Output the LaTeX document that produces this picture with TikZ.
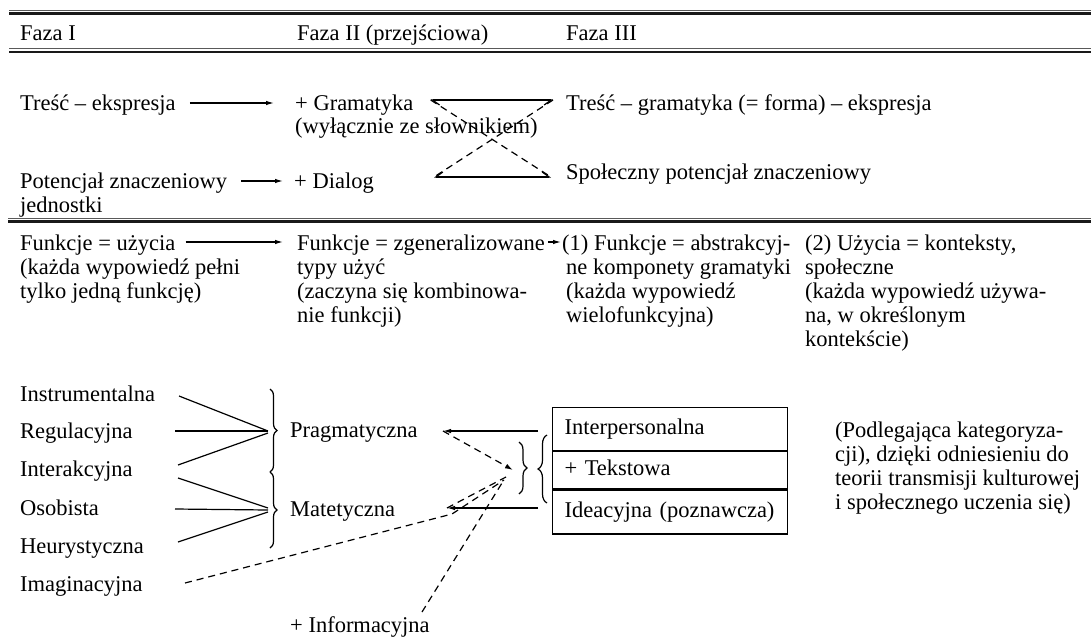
\documentclass[tikz,border=0pt]{standalone}
\usepackage{fontspec}
\setmainfont{Liberation Serif}
\usetikzlibrary{arrows.meta,decorations.pathreplacing,calc}
\begin{document}
\begin{tikzpicture}[x=1pt,y=-1pt,
  txt/.style={anchor=base west, inner sep=0pt, font=\fontsize{22.5}{24}\selectfont},
  ln/.style={line width=1.2pt},
  arr/.style={ln,-{Latex[length=8pt,width=4.5pt]}},
  dsh/.style={ln,dash pattern=on 7pt off 5pt},
  rulethin/.style={line width=0.9pt, black!65},
  rulethick/.style={line width=2.6pt, black!90},
  brc/.style={ln,decorate,decoration={brace,amplitude=#1}},
  brc/.default=7pt,
  rowbox/.style={draw,ln,anchor=north west,minimum width=235pt,inner xsep=12pt,inner ysep=0pt,text width=211pt,align=left,text height=15pt,text depth=5pt,font=\fontsize{22.5}{24}\selectfont},
  topbarb/.style={ln,{Straight Barb[harpoon,length=7pt,width=10pt]}-{Straight Barb[harpoon,swap,length=7pt,width=10pt]}},
  botbarb/.style={ln,{Straight Barb[harpoon,swap,length=7pt,width=10pt]}-{Straight Barb[harpoon,length=7pt,width=10pt]}}
]
\useasboundingbox (0,0) rectangle (1091,637);

% ---------- header rules ----------
\draw[rulethin] (9,10) -- (1091,10);
\draw[rulethick] (9,13.5) -- (1091,13.5);
\node[txt] (h1) at (20,40.5) {Faza I};
\node[txt] (h2) at (297,40.5) {Faza II (przejściowa)};
\node[txt] (h3) at (566,40.5) {Faza III};
\draw[rulethin] (9,48.5) -- (1091,48.5);
\draw[rulethick] (9,52) -- (1091,52);

% ---------- row A ----------
\node[txt] (te) at (20,110) {Treść – ekspresja};
\node[txt] (gr) at (295,110) {+ Gramatyka};
\node[txt] (tg) at (566,110) {Treść – gramatyka (= forma) – ekspresja};
\draw[arr] ([shift={(14,-7)}]te.base east) -- ([shift={(-21,-7)}]gr.base west);

% ---------- row B ----------
\node[txt] (pz) at (20,188) {Potencjał znaczeniowy};
\node[txt] (jd) at (20,212.5) {jednostki};
\node[txt] (dl) at (294,188) {+ Dialog};
\node[txt] (sp) at (566,179) {Społeczny potencjał znaczeniowy};
\draw[arr] ([shift={(14,-7)}]pz.base east) -- ([shift={(-11,-7)}]dl.base west);

% double arrows and dashed cross
\coordinate (a1) at ([shift={(17,-10)}]gr.base east);
\coordinate (a2) at ([shift={(-13,-10)}]tg.base west);
\coordinate (b1) at (434,177);
\coordinate (b2) at ([shift={(-15,-2)}]sp.base west);
\draw[topbarb] (a1) -- (a2);
\draw[botbarb] (b1) -- (b2);
\draw[dsh] (a1) -- (b2);
\draw[dsh] (a2) -- (b1);
\node[txt] (ws) at (295,133) {(wyłącznie ze słownikiem)};

% ---------- middle rule ----------
\draw[rulethin] (8,218) -- (1091,218);
\draw[rulethick] (8,221.5) -- (1091,221.5);

% ---------- function rows ----------
\node[txt] (fu) at (20,250) {Funkcje = użycia};
\node[txt] (fu2) at (20,274) {(każda wypowiedź pełni};
\node[txt] (fu3) at (20,298) {tylko jedną funkcję)};
\node[txt] (fz) at (297,250) {Funkcje = zgeneralizowane};
\node[txt] (fz2) at (297,274) {typy użyć};
\node[txt] (fz3) at (297,298) {(zaczyna się kombinowa-};
\node[txt] (fz4) at (297,322) {nie funkcji)};
\node[txt] (fa) at (562,250) {(1) Funkcje = abstrakcyj-};
\node[txt] (fa2) at (566,274) {ne komponety gramatyki};
\node[txt] (fa3) at (566,298) {(każda wypowiedź};
\node[txt] (fa4) at (566,322) {wielofunkcyjna)};
\node[txt] (uk) at (805,250) {(2) Użycia = konteksty,};
\node[txt] (uk2) at (805,274) {społeczne};
\node[txt] (uk3) at (805,298) {(każda wypowiedź używa-};
\node[txt] (uk4) at (805,322) {na, w określonym};
\node[txt] (uk5) at (805,346) {kontekście)};
\draw[arr] ([shift={(10,-8)}]fu.base east) -- ([shift={(-14,-8)}]fz.base west);
\draw[arr] ([shift={(3,-8)}]fz.base east) -- ([shift={(-1,-8)}]fa.base west);

% ---------- lower part ----------
\node[txt] (w1) at (20,401) {Instrumentalna};
\node[txt] (w2) at (20,438) {Regulacyjna};
\node[txt] (w3) at (20,476) {Interakcyjna};
\node[txt] (w4) at (20,515) {Osobista};
\node[txt] (w5) at (20,553) {Heurystyczna};
\node[txt] (w6) at (20,591) {Imaginacyjna};
\node[txt] (inf) at (290,632) {+ Informacyjna};
\node[txt] (pr) at (290,437) {Pragmatyczna};
\node[txt] (mt) at (290,516) {Matetyczna};

\draw[brc] (270,389) -- (270,472);
\draw[brc] (270,472) -- (270,548);
\coordinate (tp) at (268,431);
\coordinate (tm) at (268,510);
\coordinate (s1) at (179,396);
\coordinate (s2) at (175,431);
\coordinate (s3a) at (178,465);
\coordinate (s3b) at (178,478);
\coordinate (s4) at (175,509);
\coordinate (s5) at (178,542);
\coordinate (s6) at (185,583);
\draw[ln] (s1) -- (tp);
\draw[ln] (s2) -- (tp);
\draw[ln] (s3a) -- ([yshift=-2pt]tp);
\draw[ln] (s3b) -- ([yshift=2pt]tm);
\draw[ln] (s4) -- (tm);
\draw[ln] (s5) -- ([yshift=-2pt]tm);

% box
\node[rowbox,minimum height=43pt] (r1) at (552,407) {Interpersonalna};
\node[rowbox,minimum height=37pt] (r2) at (r1.south west) {+ Tekstowa};
\node[rowbox,minimum height=44pt] (r3) at (r2.south west) {Ideacyjna (poznawcza)};

% braces near box
\draw[brc=8pt] (519,442) -- (519,494);
\draw[brc=9pt] (547,503) -- (547,435);

% connectors to box
\coordinate (rp) at (538,431);
\coordinate (rm) at (538,508);
\coordinate (pe) at (443,431);
\coordinate (me) at (447,508);
\draw[arr] (rp) -- (pe);
\draw[arr] (rm) -- (me);
\coordinate (hp) at (513,470);
\coordinate (hm) at (506,477);
\coordinate (hi) at (504,480);
\coordinate (hn) at (502,483);
\coordinate (bend) at (452,514);
\coordinate (ni) at ([shift={(132,-20)}]inf.base west);
\draw[dsh,-{Latex[length=8pt,width=5pt]}] (pe) -- (hp);
\draw[dsh] (me) -- (hm);
\draw[dsh] (s6) -- (bend) -- (hi);
\draw[dsh] (ni) -- (hn);

% right paragraph
\node[txt] (p1) at (835,437) {(Podlegająca kategoryza-};
\node[txt] (p2) at (835,461) {cji), dzięki odniesieniu do};
\node[txt] (p3) at (835,485) {teorii transmisji kulturowej};
\node[txt] (p4) at (835,509) {i społecznego uczenia się)};
\end{tikzpicture}
\end{document}
